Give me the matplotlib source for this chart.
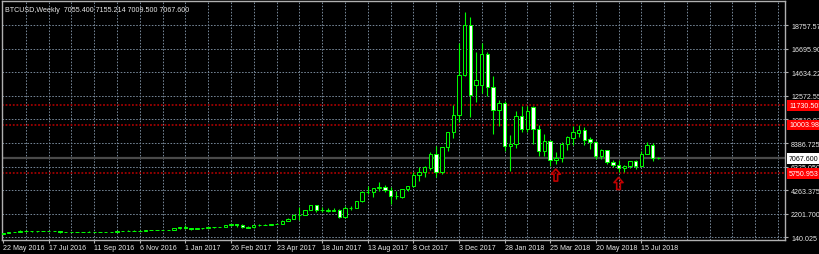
import numpy as np
import matplotlib
matplotlib.use("Agg")
import matplotlib.pyplot as plt
from matplotlib.path import Path

plt.rcParams['font.family'] = ['Liberation Sans', 'DejaVu Sans']

# weekly BTCUSD candles, first week 22 May 2016
opens = [440, 527, 575, 600, 700, 665, 675, 650, 665, 660,
         655, 590, 585, 580, 575, 605, 610, 608, 600, 612,
         618, 640, 655, 700, 705, 700, 740, 735, 765, 770,
         790, 900, 995, 905, 825, 920, 915, 1020, 1000, 1055,
         1180, 1270, 1230, 1020, 990, 1190, 1200, 1220, 1260, 1320,
         1550, 1750, 2080, 2100, 2520, 2940, 2520, 2420, 2450, 2560,
         1870, 2660, 2730, 3280, 4070, 4100, 4440, 4560, 4270, 3720,
         3640, 4360, 4600, 5590, 5880, 6200, 7440, 5860, 8060, 9375,
         10870, 14390, 18780, 13510, 13510, 16235, 13330, 11310, 11925, 8145,
         8320, 10780, 9640, 11570, 9640, 7700, 8583, 6900, 7090, 8320,
         8850, 9290, 9550, 8760, 8495, 7264, 7790, 6736, 6470, 6210,
         6370, 6824, 6385, 7440, 8230, 7055.4]
highs = [530, 590, 610, 780, 770, 690, 705, 680, 680, 665,
         660, 600, 590, 585, 610, 630, 615, 610, 615, 622,
         645, 660, 720, 745, 720, 750, 750, 775, 775, 795,
         930, 1000, 1160, 915, 930, 930, 1030, 1060, 1060, 1210,
         1290, 1330, 1260, 1120, 1200, 1260, 1260, 1300, 1350, 1600,
         1800, 2200, 2800, 2560, 2980, 2990, 2800, 2650, 2650, 2620,
         2900, 2900, 3300, 4150, 4650, 4480, 5000, 4700, 4510, 4200,
         4400, 4620, 5850, 6270, 6410, 7620, 8150, 8100, 9400, 11750,
         17200, 19900, 19490, 16400, 17200, 16410, 14300, 12190, 12100, 9110,
         11220, 11660, 11700, 11660, 9950, 9200, 8700, 7600, 8470, 9000,
         9900, 9990, 9815, 8900, 8600, 7880, 7800, 6940, 6940, 6450,
         6850, 6940, 7730, 8470, 8400, 7155.214]
lows = [435, 520, 565, 600, 560, 620, 610, 640, 645, 640,
        480, 580, 565, 570, 570, 600, 600, 590, 598, 605,
        612, 630, 650, 690, 695, 690, 720, 725, 745, 765,
        785, 890, 880, 750, 820, 885, 910, 930, 990, 1050,
        1150, 980, 960, 900, 940, 1150, 1170, 1200, 1250, 1300,
        1530, 1700, 1600, 2050, 2480, 2300, 2300, 2350, 2400, 1850,
        1850, 2550, 2650, 3200, 3960, 3700, 4220, 4100, 3040, 3480,
        3600, 4200, 4550, 5090, 5390, 6050, 5450, 5700, 7700, 8845,
        10255, 14300, 10690, 12000, 12800, 12500, 9200, 9900, 7700, 5970,
        8000, 9375, 9400, 8320, 7264, 7300, 6384, 6560, 6700, 7800,
        8230, 8900, 8230, 7880, 7000, 7000, 6600, 6270, 5830, 5830,
        6200, 6120, 6300, 7400, 6850, 7009.5]
closes = [527, 575, 600, 700, 665, 675, 650, 665, 660, 655,
          590, 585, 580, 575, 605, 610, 608, 600, 612, 618,
          640, 655, 700, 705, 700, 740, 735, 765, 770, 790,
          900, 995, 905, 825, 920, 915, 1020, 1000, 1055, 1180,
          1270, 1230, 1020, 965, 1190, 1200, 1220, 1260, 1320, 1550,
          1750, 2080, 2100, 2520, 2940, 2520, 2510, 2540, 2560, 1870,
          2660, 2730, 3280, 4070, 4130, 4440, 4560, 4270, 3720, 3760,
          4360, 4600, 5590, 5880, 6300, 7440, 5900, 8060, 9375, 10870,
          14390, 18780, 12630, 13950, 16235, 13330, 11310, 11925, 8145, 8320,
          10780, 9640, 11220, 9640, 7700, 8583, 6912, 7090, 8320, 8935,
          9375, 9550, 8670, 8495, 7264, 7790, 6736, 6470, 6210, 6370,
          6824, 6385, 7440, 8230, 7088, 7067.6]

date_labels = ['22 May 2016', '17 Jul 2016', '11 Sep 2016', '6 Nov 2016',
               '1 Jan 2017', '26 Feb 2017', '23 Apr 2017', '18 Jun 2017',
               '13 Aug 2017', '8 Oct 2017', '3 Dec 2017', '28 Jan 2018',
               '25 Mar 2018', '20 May 2018', '15 Jul 2018']
price_ticks = [140.025, 2201.700, 4263.375, 6325.050, 8386.725,
               10510.875, 12572.550, 14634.225, 16695.900, 18757.575]
red_levels = [11730.505, 10003.982, 5750.953]
last_price = 7067.600
arrow_week = [97, 108]
arrow_price = [5590, 4850]

header = "BTCUSD,Weekly  7055.400 7155.214 7009.500 7067.600"

o = np.array(opens, dtype=float)
h = np.array(highs, dtype=float)
l = np.array(lows, dtype=float)
c = np.array(closes, dtype=float)
idx = np.arange(len(o))

fig = plt.figure(figsize=(8.2, 2.55), dpi=100, facecolor='black')
ax = fig.add_axes([2 / 820, 14 / 255, 783.5 / 820, 239.5 / 255])
ax.set_facecolor('black')

fs = 5.1
txtcol = '#e8e8e8'
gridcol = '#778899'

ax.set_xlim(-0.18, 137.3)
ax.set_ylim(-120, 20940)

# grid
for v in range(4, 138, 4):
    ax.axvline(v, color=gridcol, lw=0.7, ls=(0, (1.6, 1.6)), zorder=1)
for p in price_ticks:
    ax.axhline(p, color=gridcol, lw=0.7, ls=(0, (1.6, 1.6)), zorder=1)

# price line and horizontal levels
ax.axhline(last_price, color='#4a4a4a', lw=1.6, zorder=1.5)
for p in red_levels:
    ax.axhline(p, color='#a00000', lw=1.3, ls=(0, (1, 1)), zorder=1.5)

# candles
green = '#00ff00'
ax.vlines(idx, l, h, color=green, lw=0.8, zorder=3)
body_lo = np.minimum(o, c)
body_h = np.maximum(np.abs(c - o), 1)
fills = ['black' if cc >= oo else 'white' for oo, cc in zip(o, c)]
ax.bar(idx, body_h, bottom=body_lo, width=0.6, color=fills,
       edgecolor=green, linewidth=0.7, zorder=4)

# up arrows
arrow = Path([(0, 1), (0.75, 0.15), (0.3, 0.15), (0.3, -1), (-0.3, -1),
              (-0.3, 0.15), (-0.75, 0.15), (0, 1)],
             [Path.MOVETO] + [Path.LINETO] * 6 + [Path.CLOSEPOLY])
ax.scatter(arrow_week, arrow_price, marker=arrow, s=75, facecolor='none',
           edgecolor='#c00000', linewidths=1.2, zorder=5)

# axes frame
for s in ax.spines.values():
    s.set_color('#b0b0b0')
    s.set_linewidth(1)

# bottom dates
ax.set_xticks(np.arange(0, 8 * len(date_labels), 8))
ax.set_xticklabels(date_labels, ha='left', fontsize=fs, color=txtcol)
ax.tick_params(axis='x', length=2.5, width=0.8, color='#b0b0b0', pad=0.5)

# right price scale
ax.yaxis.tick_right()
ax.set_yticks(price_ticks)
ax.set_yticklabels(['%.3f' % p for p in price_ticks], fontsize=fs, color=txtcol)
ax.tick_params(axis='y', length=2.5, width=0.8, color='#b0b0b0', pad=1.5)

tr = ax.get_yaxis_transform()
ax.text(1.0045, last_price, '%.3f' % last_price, transform=tr, fontsize=fs,
        color='black', va='center', ha='left', clip_on=False, zorder=10,
        bbox=dict(boxstyle='square,pad=0.25', fc='white', ec='none'))
for p in red_levels:
    ax.text(1.0045, p, '%.3f' % p, transform=tr, fontsize=fs, color='white',
            va='center', ha='left', clip_on=False, zorder=10,
            bbox=dict(boxstyle='square,pad=0.25', fc='#ff0000', ec='none'))

ax.text(0.004, 0.975, header, transform=ax.transAxes, fontsize=fs,
        color=txtcol, va='top', ha='left')

fig.savefig('out.png', dpi=100, facecolor='black')
